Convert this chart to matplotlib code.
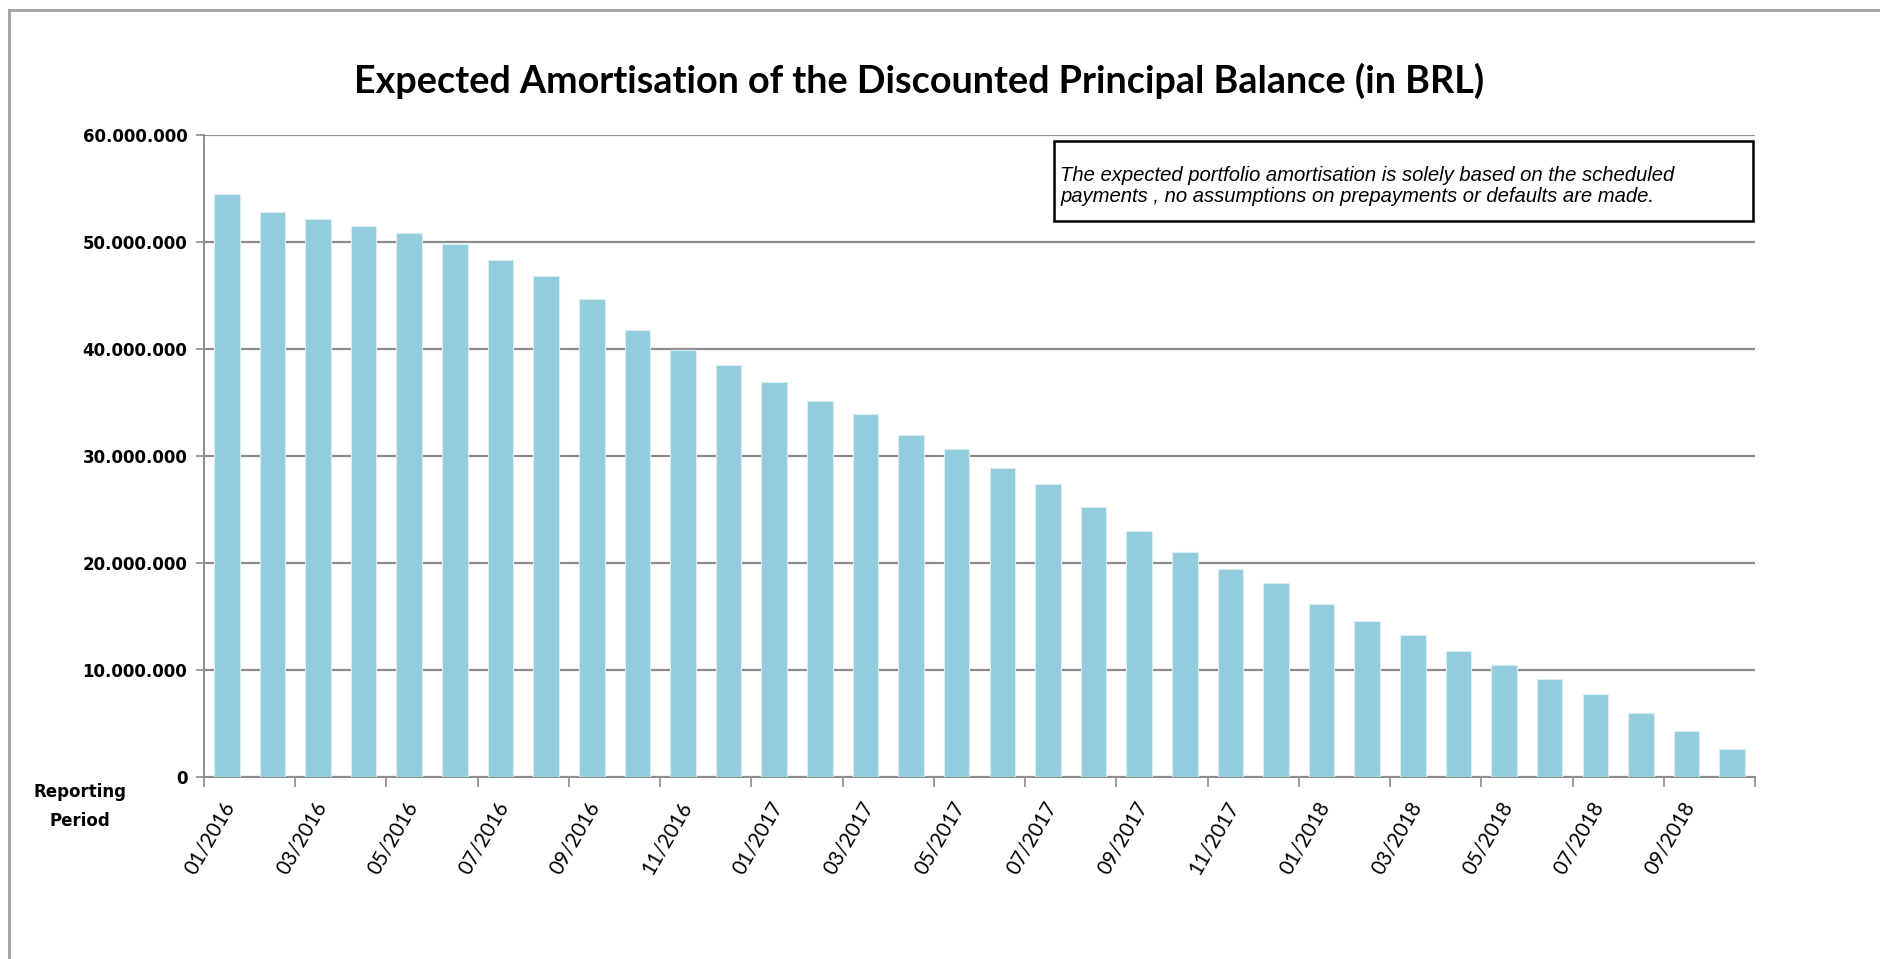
import matplotlib
matplotlib.use('Agg')
import matplotlib.pyplot as plt
import matplotlib.transforms as mtransforms
from matplotlib.lines import Line2D
from matplotlib.patches import Rectangle
from matplotlib.ticker import FuncFormatter

# reporting periods, monthly from 01/2016 to 10/2018
periods = ['%02d/%d' % (m, y) for y in (2016, 2017, 2018) for m in range(1, 13)][:34]
# expected discounted principal balance in BRL
balance = [54.5, 52.8, 52.2, 51.5, 50.9, 49.8, 48.3, 46.8, 44.7, 41.8,
           39.9, 38.5, 36.9, 35.1, 33.9, 32.0, 30.7, 28.9, 27.4, 25.2,
           23.0, 21.0, 19.4, 18.1, 16.2, 14.6, 13.3, 11.8, 10.5, 9.1,
           7.7, 6.0, 4.3, 2.6]
balance = [v * 1e6 for v in balance]

title = 'Expected Amortisation of the Discounted Principal Balance (in BRL)'
note = ('The expected portfolio amortisation is solely based on the scheduled\n'
        'payments , no assumptions on prepayments or defaults are made.')

bar_color = '#93cddd'
grid_color = '#8c8c8c'

fig = plt.figure(figsize=(18.8, 9.59), dpi=100)
ax = fig.add_axes([0.1085, 0.19, 0.825, 0.669])

x = range(len(periods))
ax.bar(x, balance, width=0.56, color=bar_color, edgecolor='#d8eef4', linewidth=0.8, zorder=3)

ax.set_xlim(-0.5, len(periods) - 0.5)
ax.set_ylim(0, 60e6)
ax.set_yticks(range(0, 60000001, 10000000))
ax.yaxis.set_major_formatter(FuncFormatter(lambda v, p: '{:,.0f}'.format(v).replace(',', '.')))
for lab in ax.get_yticklabels():
    lab.set_fontweight('bold')
    lab.set_fontfamily('DejaVu Sans')
ax.tick_params(axis='y', labelsize=12, length=6, width=1.2, color=grid_color, pad=6)

# ticks at category boundaries every two months, labels on bar centres
ax.set_xticks([i - 0.5 for i in range(0, len(periods) + 1, 2)])
ax.set_xticklabels([])
ax.set_xticks(list(range(0, len(periods), 2)), minor=True)
ax.set_xticklabels(periods[::2], minor=True, rotation=60, ha='right',
                   rotation_mode='anchor', fontsize=14.8, fontfamily='Lato')
ax.tick_params(axis='x', which='major', length=7, width=1.2, color=grid_color)
ax.tick_params(axis='x', which='minor', length=0, pad=15)
shift = mtransforms.ScaledTranslation(-5 / 100, 0, fig.dpi_scale_trans)
for lab in ax.xaxis.get_minorticklabels():
    lab.set_transform(lab.get_transform() + shift)

ax.grid(axis='y', color=grid_color, linewidth=1.6, zorder=0)
for s in ('top', 'right'):
    ax.spines[s].set_visible(False)
for s in ('left', 'bottom'):
    ax.spines[s].set_color(grid_color)
    ax.spines[s].set_linewidth(1.4)

fig.text(0.489, 0.916, title, ha='center', va='center', fontsize=27.2,
         fontweight='bold', fontfamily='Lato')

fig.text(0.0425, 0.159, 'Reporting\nPeriod', ha='center', va='center', fontsize=12,
         fontweight='bold', fontfamily='DejaVu Sans', linespacing=1.85)

# note box inside the plot
ax.add_patch(Rectangle((0.548, 0.866), 0.451, 0.125, transform=ax.transAxes,
                       facecolor='white', edgecolor='black', linewidth=1.8, zorder=5))
ax.text(0.552, 0.921, note, transform=ax.transAxes, ha='left', va='center',
        fontsize=14.6, style='italic', fontfamily='Liberation Sans', linespacing=1.15,
        zorder=6)

# outer chart frame (top and left edges)
fig.add_artist(Line2D([9 / 1880, 1], [1 - 10 / 959, 1 - 10 / 959], color='#a0a0a0', linewidth=2))
fig.add_artist(Line2D([9 / 1880, 9 / 1880], [0, 1 - 10 / 959], color='#a0a0a0', linewidth=2))

fig.savefig('out.png', dpi=100)
